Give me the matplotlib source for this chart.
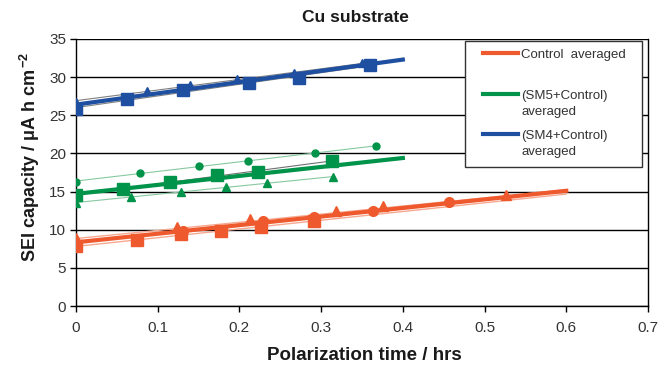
import matplotlib.pyplot as plt
import numpy as np
from matplotlib.lines import Line2D
from matplotlib.patches import Rectangle

plt.rcParams['font.family'] = ['Liberation Sans', 'DejaVu Sans']

# Control (red)
ctl_sq_x = [0, 0.075, 0.129, 0.177, 0.227, 0.291]
ctl_sq_y = [7.8, 8.65, 9.4, 9.8, 10.3, 11.2]
ctl_tr_x = [0, 0.123, 0.213, 0.318, 0.376, 0.526]
ctl_tr_y = [8.9, 10.4, 11.4, 12.45, 13.1, 14.5]
ctl_ci_x = [0.131, 0.229, 0.291, 0.364, 0.456]
ctl_ci_y = [9.8, 11.2, 11.7, 12.45, 13.6]
ctl_avg_x = [0, 0.6]
ctl_avg_y = [8.35, 15.1]

# SM5 + Control (green)
sm5_sq_x = [0, 0.057, 0.115, 0.173, 0.223, 0.313]
sm5_sq_y = [14.5, 15.4, 16.3, 17.2, 17.6, 19.0]
sm5_ci_x = [0, 0.078, 0.151, 0.21, 0.293, 0.367]
sm5_ci_y = [16.3, 17.4, 18.4, 19.0, 20.0, 21.0]
sm5_tr_x = [0, 0.067, 0.129, 0.183, 0.234, 0.314]
sm5_tr_y = [13.5, 14.3, 15.0, 15.6, 16.1, 16.9]
sm5_avg_x = [0, 0.4]
sm5_avg_y = [14.7, 19.4]

# SM4 + Control (blue)
sm4_sq_x = [0, 0.063, 0.131, 0.212, 0.273, 0.36]
sm4_sq_y = [25.8, 27.1, 28.3, 29.2, 29.9, 31.6]
sm4_tr_x = [0, 0.087, 0.14, 0.197, 0.267, 0.35]
sm4_tr_y = [26.8, 28.2, 29.0, 29.7, 30.5, 31.8]
sm4_avg_x = [0, 0.4]
sm4_avg_y = [26.4, 32.3]

legend_labels = ['Control  averaged', '(SM5+Control)\naveraged',
                 '(SM4+Control)\naveraged']

red = '#EE5A2D'
green = '#00934A'
blue = '#1F4FA0'
pale_red = '#F7A890'
pale_green = '#86C9A0'

W, H = 672, 367
fig = plt.figure(figsize=(6.72, 3.67), dpi=100)
ax = fig.add_axes([76 / W, 1 - 306 / H, 572 / W, 267 / H])


def trend(x, y, color, x_end=None, lw=0.8):
    k, b = np.polyfit(x, y, 1)
    xx = np.array([0, x_end if x_end else max(x)])
    ax.plot(xx, k * xx + b, color=color, lw=lw, zorder=2)


# thin trend lines
trend(ctl_sq_x, ctl_sq_y, pale_red, 0.6, 1.0)
trend(ctl_tr_x + ctl_ci_x, ctl_tr_y + ctl_ci_y, pale_red, 0.6, 1.0)
trend(sm5_ci_x, sm5_ci_y, pale_green)
trend(sm5_tr_x, sm5_tr_y, pale_green)
trend(sm5_sq_x, sm5_sq_y, '#707070')
trend(sm4_sq_x, sm4_sq_y, '#808080')
trend(sm4_tr_x, sm4_tr_y, '#808080')

# markers
ax.plot(ctl_sq_x, ctl_sq_y, 's', color=red, ms=8, zorder=3)
ax.plot(ctl_tr_x, ctl_tr_y, '^', color=red, ms=7, zorder=3)
ax.plot(ctl_ci_x, ctl_ci_y, 'o', color=red, ms=7, zorder=3)
ax.plot(sm5_sq_x, sm5_sq_y, 's', color=green, ms=8, zorder=3)
ax.plot(sm5_ci_x, sm5_ci_y, 'o', color=green, ms=5, zorder=3)
ax.plot(sm5_tr_x, sm5_tr_y, '^', color=green, ms=6, zorder=3)
ax.plot(sm4_sq_x, sm4_sq_y, 's', color=blue, ms=8, zorder=3)
ax.plot(sm4_tr_x, sm4_tr_y, '^', color=blue, ms=6, zorder=3)

# averaged lines
ax.plot(ctl_avg_x, ctl_avg_y, color=red, lw=3, zorder=4)
ax.plot(sm5_avg_x, sm5_avg_y, color=green, lw=3, zorder=4)
ax.plot(sm4_avg_x, sm4_avg_y, color=blue, lw=3, zorder=4)

ax.set_xlim(0, 0.7)
ax.set_ylim(0, 35)
ax.set_xticks(np.arange(0, 0.71, 0.1))
ax.set_xticklabels(['0', '0.1', '0.2', '0.3', '0.4', '0.5', '0.6', '0.7'])
ax.set_yticks(range(0, 36, 5))
ax.yaxis.grid(True, color='black', lw=1)
ax.set_axisbelow(True)
ax.spines['top'].set_visible(False)
for s in ['left', 'bottom', 'right']:
    ax.spines[s].set_linewidth(1)
ax.tick_params(direction='out', length=4, width=1, labelsize=11,
               colors='black', labelcolor='#333333')
ax.tick_params(axis='x', pad=7)
ax.tick_params(axis='y', pad=3)

fig.text(364 / W, 1 - 355 / H, 'Polarization time / hrs', fontsize=13.5,
         fontweight='bold', ha='center', va='center', color='#1a1a1a')
fig.text(30 / W, 1 - 157 / H,
         'SEI capacity / μA h cm$^{\\,\\mathregular{-2}}$',
         fontsize=13, fontweight='bold', rotation=90, ha='center',
         va='center', color='#1a1a1a')
fig.text(355 / W, 1 - 18 / H, 'Cu substrate', fontsize=12.5,
         fontweight='bold', ha='center', va='center', color='#1a1a1a')

# legend drawn by hand so the handle sits beside the first text line
fig.add_artist(Rectangle((465 / W, 1 - 167 / H), 177 / W, 126 / H,
                         transform=fig.transFigure, facecolor='white',
                         edgecolor='#333333', lw=1, zorder=5))
for i, (lab, col) in enumerate(zip(legend_labels, [red, green, blue])):
    yy = 1 - [53, 94, 134][i] / H
    fig.add_artist(Line2D([483 / W, 518 / W], [yy, yy], color=col, lw=3,
                          transform=fig.transFigure, zorder=6))
    fig.text(521 / W, yy + 4 / H, lab, fontsize=9.5, color='#333333',
             ha='left', va='top', linespacing=1.45, zorder=6)

fig.savefig('out.png', dpi=100)
